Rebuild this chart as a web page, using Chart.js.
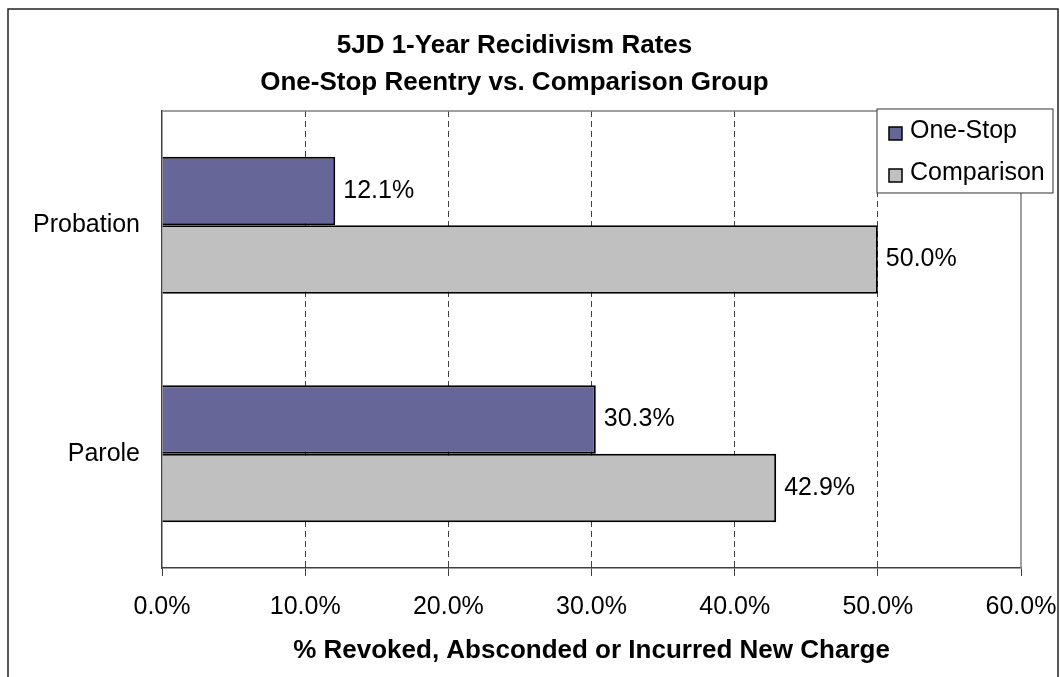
<!DOCTYPE html>
<html>
<head>
<meta charset="utf-8">
<script src="https://cdn.jsdelivr.net/npm/chart.js@4"></script>
<style>
  html, body { margin: 0; padding: 0; background: #fff; }
  #wrap { width: 1060px; height: 677px; }
</style>
</head>
<body>
<div id="wrap"><canvas id="graph" width="1060" height="677"></canvas></div>
<script>
// data
var categories = ["Probation", "Parole"];
var seriesNames = ["One-Stop", "Comparison"];
var oneStop = [12.1, 30.3];
var comparison = [50.0, 42.9];
var barColors = ["#666699", "#C0C0C0"];
var titleLines = ["5JD 1-Year Recidivism Rates", "One-Stop Reentry vs. Comparison Group"];
var xTitle = "% Revoked, Absconded or Incurred New Charge";

var FONT = "'Liberation Sans', Arial, sans-serif";
Chart.defaults.font.family = FONT;
Chart.defaults.color = "#000";

// outer frame, plot frame, legend box and value labels
var frame = {
  id: 'frame',
  beforeDraw: function(chart) {
    var c = chart.ctx;
    c.save();
    c.strokeStyle = '#222';
    c.lineWidth = 1.5;
    c.strokeRect(8, 9, 1050, 700);
    c.restore();
  },
  afterDatasetsDraw: function(chart) {
    var c = chart.ctx;
    c.save();
    c.font = '25px ' + FONT;
    c.fillStyle = '#000';
    c.textBaseline = 'middle';
    c.textAlign = 'left';
    chart.data.datasets.forEach(function(ds, i) {
      chart.getDatasetMeta(i).data.forEach(function(bar, j) {
        c.fillText(ds.data[j].toFixed(1) + '%', bar.x + 8, bar.y);
      });
    });
    c.restore();
  },
  afterDraw: function(chart) {
    var c = chart.ctx, a = chart.chartArea;
    c.save();
    // top + right edges of the plot area
    c.strokeStyle = '#808080';
    c.lineWidth = 1.5;
    c.beginPath();
    c.moveTo(a.left, a.top);
    c.lineTo(a.right, a.top);
    c.lineTo(a.right, a.bottom);
    c.stroke();

    // legend
    var lx = a.right - 144, ly = a.top - 2, lw = 176, lh = 84;
    c.fillStyle = '#fff';
    c.fillRect(lx, ly, lw, lh);
    c.strokeStyle = '#333';
    c.lineWidth = 1;
    c.strokeRect(lx, ly, lw, lh);
    c.font = '25px ' + FONT;
    c.textBaseline = 'alphabetic';
    chart.data.datasets.forEach(function(ds, i) {
      var base = ly + 29 + i * 42;
      c.fillStyle = ds.backgroundColor;
      c.fillRect(lx + 12, base - 11, 13, 13);
      c.strokeStyle = '#000';
      c.lineWidth = 1.5;
      c.strokeRect(lx + 12, base - 11, 13, 13);
      c.fillStyle = '#000';
      c.fillText(ds.label, lx + 33, base);
    });
    c.restore();
  }
};

new Chart("graph", {
  type: "bar",
  data: {
    labels: categories,
    datasets: [
      { label: seriesNames[0], data: oneStop, backgroundColor: barColors[0], borderColor: "#000", borderWidth: 2 },
      { label: seriesNames[1], data: comparison, backgroundColor: barColors[1], borderColor: "#000", borderWidth: 2 }
    ]
  },
  options: {
    indexAxis: 'y',
    responsive: false,
    animation: false,
    categoryPercentage: 0.6,
    barPercentage: 1.0,
    layout: { padding: { left: 8, right: 39, top: 0, bottom: 0 } },
    plugins: {
      legend: { display: false },
      tooltip: { enabled: false },
      title: {
        display: true,
        text: titleLines,
        color: '#000',
        font: { size: 26, weight: 'bold', lineHeight: 1.423 },
        padding: { top: 27.5, bottom: 9.5 }
      }
    },
    scales: {
      x: {
        min: 0,
        max: 60,
        ticks: {
          stepSize: 10,
          padding: 16.5,
          font: { size: 25 },
          color: '#000',
          callback: function(v) { return v.toFixed(1) + '%'; }
        },
        grid: {
          color: function(ctx) {
            return (ctx.tick && (ctx.tick.value === 0 || ctx.tick.value === 60)) ? 'rgba(0,0,0,0)' : '#404040';
          },
          lineWidth: 1,
          tickColor: '#404040',
          tickLength: 8,
          tickBorderDash: []
        },
        border: { display: true, color: '#404040', width: 1.5, dash: [6, 4] },
        title: {
          display: true,
          text: xTitle,
          color: '#000',
          font: { size: 26, weight: 'bold' },
          padding: { top: 0, bottom: 10.4 }
        },
        afterFit: function(scale) {
          scale.height = 109;
          scale.paddingLeft = 0;
          scale.paddingRight = 0;
        }
      },
      y: {
        ticks: { padding: 22, font: { size: 25 }, color: '#000' },
        grid: { display: false, drawTicks: false },
        border: { display: true, color: '#404040', width: 1.5 },
        afterFit: function(scale) {
          scale.width = 154;
          scale.paddingTop = 0;
          scale.paddingBottom = 0;
        }
      }
    }
  },
  plugins: [frame]
});
</script>
</body>
</html>
